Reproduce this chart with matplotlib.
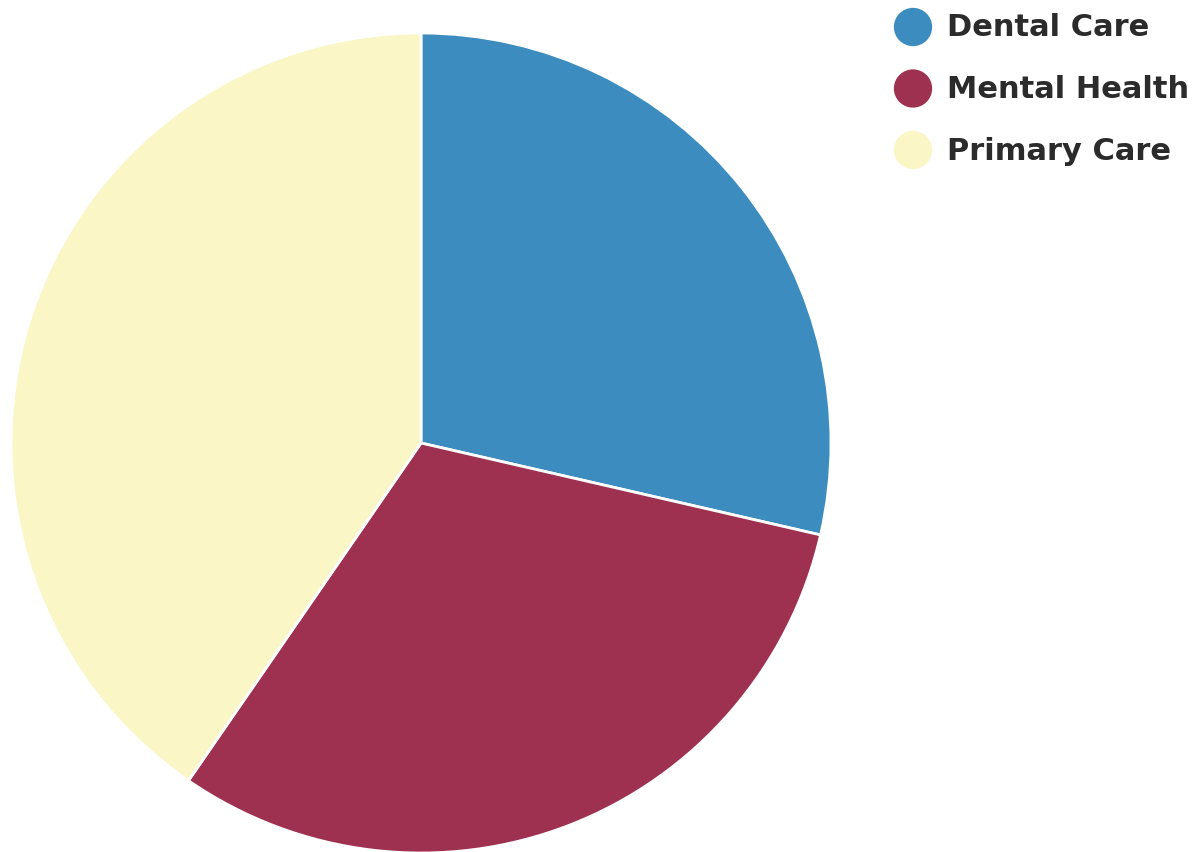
import matplotlib.pyplot as plt

categories = ['Dental Care', 'Mental Health', 'Primary Care']
values = [28.6, 31.0, 40.4]
colors = ['#3c8cbf', '#9e3150', '#faf6c5']

W, H = 1196, 852
fig = plt.figure(figsize=(W / 100, H / 100), dpi=100)

# pie: centre (421, 443) px, radius 410 px
cx, cy, r = 421, 443, 410
ax = fig.add_axes([(cx - r) / W, (H - cy - r) / H, 2 * r / W, 2 * r / H])
ax.pie(values, colors=colors, startangle=90, counterclock=False, radius=1,
       wedgeprops=dict(edgecolor='white', linewidth=2))
ax.set_xlim(-1, 1)
ax.set_ylim(-1, 1)
ax.set_aspect('equal')
ax.axis('off')

# legend drawn in pixel coordinates
lax = fig.add_axes([0, 0, 1, 1], facecolor='none')
lax.set_xlim(0, W)
lax.set_ylim(H, 0)
lax.axis('off')
for i, (cat, col) in enumerate(zip(categories, colors)):
    y = 27 + i * 61.5
    lax.scatter([913], [y], s=760, color=col, edgecolors='none')
    lax.text(947, y + 1, cat, fontsize=22, fontweight='bold', color='#2b2b2b',
             family='DejaVu Sans', va='center', ha='left')

fig.savefig('out.png', dpi=100)
